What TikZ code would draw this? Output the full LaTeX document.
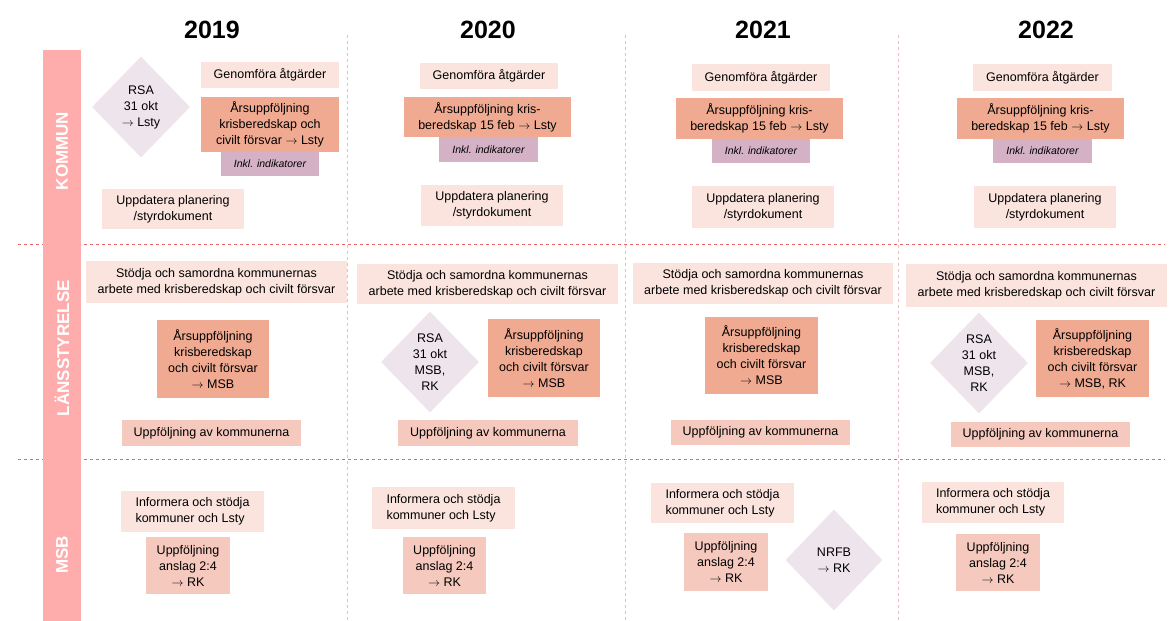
\documentclass[tikz,border=0pt]{standalone}
\usepackage{fontspec}
\setmainfont{Liberation Sans}
\usepackage{xcolor}
\usepackage{tikz}
\usetikzlibrary{shapes.geometric}
\usetikzlibrary{positioning}

\definecolor{ljus}{HTML}{FBE4DE}
\definecolor{lax}{HTML}{F0AA92}
\definecolor{mellan}{HTML}{F5C9BD}
\definecolor{lila}{HTML}{D4B1C5}
\definecolor{ruta}{HTML}{EEE4EB}
\definecolor{band}{HTML}{FFACAC}
\definecolor{linje}{HTML}{E8646E}
\definecolor{kolumn}{HTML}{F7B8BB}
\newcommand{\pil}{$\rightarrow$}

\begin{document}
\begin{tikzpicture}[x=1pt,y=-1pt,
   box/.style={inner sep=0pt, align=center, font=\fontsize{12.5}{16}\selectfont},
   ljusbox/.style={box, fill=ljus},
   laxbox/.style={box, fill=lax},
   mellanbox/.style={box, fill=mellan},
   inklbox/.style={box, fill=lila, font=\fontsize{10.5}{12}\selectfont\itshape},
   rsabox/.style={box, diamond, fill=ruta, minimum width=98, minimum height=101},
   storlek/.style 2 args={minimum width=#1, minimum height=#2},
   year/.style={font=\fontsize{25}{30}\selectfont\bfseries},
   sida/.style={rotate=90, text=white, font=\fontsize{17}{20}\selectfont\bfseries},
   skiljelinje/.style={linje, dash pattern=on 3pt off 3pt, line width=0.8pt},
   kolumnlinje/.style={kolumn, dash pattern=on 3pt off 3pt, line width=0.8pt}]
   \useasboundingbox (0,0) rectangle (1170,621);

   % separators
   \draw[kolumnlinje] (347,35) -- (347,621);
   \draw[kolumnlinje] (625,35) -- (625,621);
   \draw[kolumnlinje] (898,35) -- (898,621);
   \draw[skiljelinje] (18,244) -- (1165,244);
   \draw[skiljelinje] (18,459) -- (1165,459);

   % left band
   \fill[band] (43,50) rectangle (81,621);
   \node[sida] (kommun) at (62,151) {KOMMUN};
   \node[sida] (lans) at (62,348) {LÄNSSTYRELSE};
   \node[sida] (msb) at (62,555) {MSB};

   % years
   \node[year] (y19) at (212,30) {2019};
   \node[year] (y20) at (488,30) {2020};
   \node[year] (y21) at (763,30) {2021};
   \node[year] (y22) at (1046,30) {2022};

   % kommun
   \node[rsabox] (rsa19) at (141,107) {RSA\\31 okt\\\pil{} Lsty};
   \node[ljusbox, storlek={138}{26}] (gen19) at (270,75) {Genomföra åtgärder};
   \node[laxbox, storlek={138}{55}] (ars19) at (270,124.5) {Årsuppföljning\\krisberedskap och\\civilt försvar \pil{} Lsty};
   \node[inklbox, storlek={98}{24}] (ink19) at (270,164) {Inkl. indikatorer};
   \node[ljusbox, storlek={142}{40}] (upd19) at (173,209) {Uppdatera planering\\/styrdokument};

   \node[ljusbox, storlek={138}{26}] (gen20) at (489,76) {Genomföra åtgärder};
   \node[laxbox, storlek={167}{40}] (ars20) at (487.5,117) {Årsuppföljning kris-\\beredskap 15 feb \pil{} Lsty};
   \node[inklbox, storlek={99}{25}] (ink20) at (488.5,149.5) {Inkl. indikatorer};
   \node[ljusbox, storlek={142}{41}] (upd20) at (492,205.5) {Uppdatera planering\\/styrdokument};

   \node[ljusbox, storlek={138}{27}] (gen21) at (761,77.5) {Genomföra åtgärder};
   \node[laxbox, storlek={167}{41}] (ars21) at (759.5,118.5) {Årsuppföljning kris-\\beredskap 15 feb \pil{} Lsty};
   \node[inklbox, storlek={98}{24}] (ink21) at (761,151) {Inkl. indikatorer};
   \node[ljusbox, storlek={142}{42}] (upd21) at (763,207) {Uppdatera planering\\/styrdokument};

   \node[ljusbox, storlek={139}{27}] (gen22) at (1042.5,77.5) {Genomföra åtgärder};
   \node[laxbox, storlek={167}{41}] (ars22) at (1040.5,118.5) {Årsuppföljning kris-\\beredskap 15 feb \pil{} Lsty};
   \node[inklbox, storlek={99}{24}] (ink22) at (1042.5,151) {Inkl. indikatorer};
   \node[ljusbox, storlek={142}{42}] (upd22) at (1045,207) {Uppdatera planering\\/styrdokument};

   % länsstyrelse
   \node[ljusbox, storlek={261}{42}] (sto19) at (216.5,282) {Stödja och samordna kommunernas\\arbete med krisberedskap och civilt försvar};
   \node[laxbox, storlek={112}{78}] (lars19) at (213,359) {Årsuppföljning\\krisberedskap\\och civilt försvar\\\pil{} MSB};
   \node[mellanbox, storlek={179}{26}] (uppk19) at (211.5,433) {Uppföljning av kommunerna};

   \node[ljusbox, storlek={261}{40}] (sto20) at (487.5,284) {Stödja och samordna kommunernas\\arbete med krisberedskap och civilt försvar};
   \node[rsabox] (rsa20) at (430,362) {RSA\\31 okt\\MSB,\\RK};
   \node[laxbox, storlek={112}{78}] (lars20) at (544,358) {Årsuppföljning\\krisberedskap\\och civilt försvar\\\pil{} MSB};
   \node[mellanbox, storlek={180}{26}] (uppk20) at (488,433) {Uppföljning av kommunerna};

   \node[ljusbox, storlek={260}{41}] (sto21) at (763,283.5) {Stödja och samordna kommunernas\\arbete med krisberedskap och civilt försvar};
   \node[laxbox, storlek={113}{77}] (lars21) at (761.5,355.5) {Årsuppföljning\\krisberedskap\\och civilt försvar\\\pil{} MSB};
   \node[mellanbox, storlek={179}{25}] (uppk21) at (760.5,432.5) {Uppföljning av kommunerna};

   \node[ljusbox, storlek={261}{43}] (sto22) at (1036.5,285.5) {Stödja och samordna kommunernas\\arbete med krisberedskap och civilt försvar};
   \node[rsabox] (rsa22) at (979,363) {RSA\\31 okt\\MSB,\\RK};
   \node[laxbox, storlek={113}{77}] (lars22) at (1092.5,358.5) {Årsuppföljning\\krisberedskap\\och civilt försvar\\\pil{} MSB, RK};
   \node[mellanbox, storlek={179}{25}] (uppk22) at (1040.5,434.5) {Uppföljning av kommunerna};

   % msb
   \node[ljusbox, storlek={143}{41}, align=left] (inf19) at (192.5,511.5) {Informera och stödja\\kommuner och Lsty};
   \node[mellanbox, storlek={84}{57}] (anc19) at (188,565.5) {Uppföljning\\anslag 2:4\\\pil{} RK};

   \node[ljusbox, storlek={143}{42}, align=left] (inf20) at (443.5,508) {Informera och stödja\\kommuner och Lsty};
   \node[mellanbox, storlek={83}{57}] (anc20) at (444.5,565.5) {Uppföljning\\anslag 2:4\\\pil{} RK};

   \node[ljusbox, storlek={143}{40}, align=left] (inf21) at (722.5,503) {Informera och stödja\\kommuner och Lsty};
   \node[mellanbox, storlek={84}{58}] (anc21) at (726,562) {Uppföljning\\anslag 2:4\\\pil{} RK};
   \node[rsabox, minimum width=97] (nrfb) at (834,560) {NRFB\\\pil{} RK};

   \node[ljusbox, storlek={142}{41}, align=left] (inf22) at (993,502.5) {Informera och stödja\\kommuner och Lsty};
   \node[mellanbox, storlek={84}{57}] (anc22) at (998,562.5) {Uppföljning\\anslag 2:4\\\pil{} RK};
\end{tikzpicture}
\end{document}
